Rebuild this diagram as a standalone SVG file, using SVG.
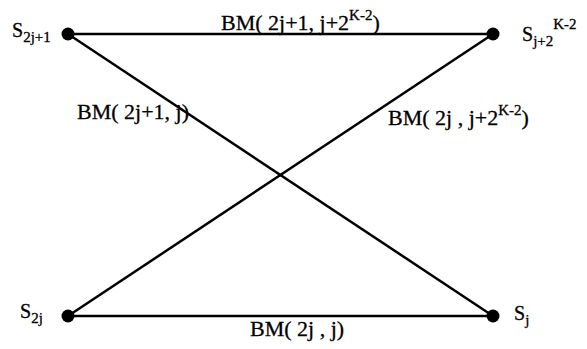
<svg xmlns="http://www.w3.org/2000/svg" width="587" height="349" viewBox="0 0 587 349">
<style>
text{font-family:"Liberation Serif","Times New Roman",serif;font-size:22px;fill:#000;stroke:#000;stroke-width:0.3}
.node text{font-size:20px}
.sub{font-size:15px}
.sup{font-size:15px}
line{stroke:#000;stroke-width:2.5}
circle{fill:#000}
</style>
<rect width="587" height="349" fill="#fff"/>
<g id="connectors">
<line x1="68" y1="34" x2="493" y2="34"/>
<line x1="68" y1="316" x2="493" y2="316"/>
<line x1="68" y1="34" x2="493" y2="316"/>
<line x1="68" y1="316" x2="493" y2="34"/>
<text x="221" y="30">BM( 2j+1,  j+2<tspan class="sup" dy="-10">K-2</tspan><tspan dy="10">)</tspan></text>
<text x="77" y="119">BM( 2j+1,  j)</text>
<text x="388" y="125">BM( 2j , j+2<tspan class="sup" dy="-10">K-2</tspan><tspan dy="10">)</tspan></text>
<text x="250" y="336">BM( 2j , j)</text>
</g>
<g id="n1" class="node"><circle cx="68" cy="34" r="6.5"/><text x="12" y="37">S<tspan class="sub" dy="5">2j+1</tspan></text></g>
<g id="n2" class="node"><circle cx="493" cy="34" r="6.5"/><text x="522" y="41">S<tspan class="sub" dy="5">j+2</tspan><tspan class="sup" dy="-17">K-2</tspan></text></g>
<g id="n3" class="node"><circle cx="68" cy="316" r="6.5"/><text x="20" y="318">S<tspan class="sub" dy="5">2j</tspan></text></g>
<g id="n4" class="node"><circle cx="493" cy="316" r="6.5"/><text x="514" y="320">S<tspan class="sub" dy="5">j</tspan></text></g>
</svg>
